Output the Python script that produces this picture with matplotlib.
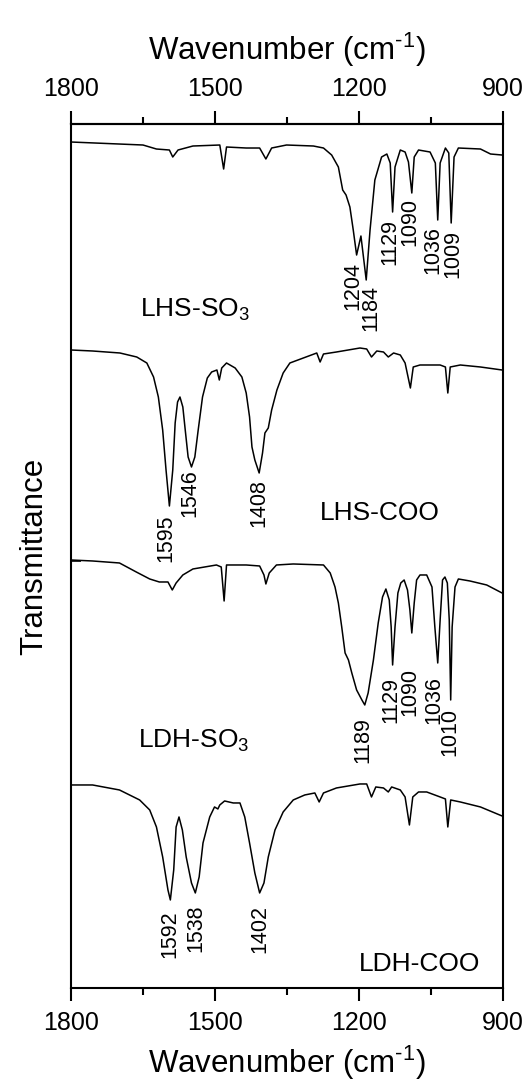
import numpy as np
import matplotlib
matplotlib.use("Agg")
import matplotlib.pyplot as plt

plt.rcParams['font.family'] = ['Liberation Sans', 'DejaVu Sans']
plt.rcParams['mathtext.fontset'] = 'custom'
plt.rcParams['mathtext.rm'] = 'Liberation Sans'
plt.rcParams['mathtext.it'] = 'Liberation Sans'

# espectros FTIR, transmitancia en unidades arbitrarias (desplazados)
wn_lhs_so3 = [1800, 1650, 1622, 1595, 1588, 1577, 1546, 1490, 1482, 1476, 1435, 1407, 1394,
              1382, 1351, 1295, 1274, 1257, 1243, 1234, 1227, 1219, 1212, 1205, 1196, 1185,
              1177, 1167, 1153, 1142, 1135, 1130, 1125, 1114, 1104, 1097, 1090, 1085, 1076,
              1052, 1041, 1036, 1031, 1020, 1013, 1008, 1002, 993, 947, 926, 902]
T_lhs_so3 = [846, 843, 839, 838, 831, 838, 842, 843, 819, 841, 840, 840, 829,
             840, 843, 842, 840, 833, 821, 798, 793, 781, 758, 733, 752, 708,
             758, 808, 831, 834, 825, 776, 821, 838, 836, 826, 795, 831, 838,
             836, 825, 768, 825, 840, 835, 765, 831, 840, 839, 834, 833]

wn_lhs_coo = [1800, 1755, 1698, 1663, 1642, 1628, 1618, 1609, 1602, 1595, 1588, 1583, 1578,
              1573, 1567, 1562, 1556, 1549, 1542, 1535, 1526, 1516, 1507, 1496, 1491, 1486,
              1476, 1458, 1444, 1435, 1428, 1423, 1417, 1408, 1401, 1396, 1389, 1382, 1371,
              1358, 1344, 1316, 1288, 1281, 1274, 1247, 1198, 1184, 1174, 1163, 1149, 1139,
              1128, 1114, 1104, 1093, 1087, 1073, 1031, 1020, 1015, 1010, 989, 947, 902]
T_lhs_coo = [638, 637, 635, 631, 625, 611, 591, 558, 518, 482, 518, 565, 586,
             591, 581, 558, 531, 521, 531, 558, 591, 610, 616, 618, 608, 620,
             625, 620, 611, 595, 571, 541, 528, 515, 535, 555, 560, 578, 598,
             615, 625, 630, 635, 626, 634, 636, 640, 639, 631, 637, 636, 631,
             635, 633, 625, 600, 621, 623, 623, 621, 595, 621, 623, 621, 618]

wn_ldh_so3 = [1800, 1755, 1699, 1664, 1636, 1616, 1598, 1589, 1581, 1567, 1546, 1497, 1487,
              1481, 1476, 1435, 1407, 1398, 1394, 1387, 1372, 1337, 1274, 1260, 1250, 1243,
              1236, 1229, 1222, 1215, 1205, 1194, 1188, 1181, 1170, 1160, 1151, 1144, 1137,
              1133, 1130, 1125, 1119, 1113, 1106, 1099, 1094, 1090, 1085, 1080, 1073, 1059,
              1048, 1042, 1036, 1031, 1026, 1021, 1016, 1012, 1009, 1006, 1000, 993, 969,
              934, 906, 902]
T_ldh_so3 = [428, 427, 425, 416, 409, 406, 406, 398, 405, 413, 419, 423, 421,
             387, 423, 423, 422, 413, 404, 415, 423, 424, 423, 415, 401, 385,
             361, 335, 328, 315, 298, 288, 283, 295, 328, 365, 391, 399, 388,
             361, 323, 361, 395, 405, 408, 398, 378, 355, 385, 408, 413, 413,
             401, 361, 325, 368, 408, 411, 405, 368, 288, 361, 401, 409, 407,
             403, 396, 395]

wn_ldh_coo = [1800, 1755, 1699, 1657, 1636, 1622, 1609, 1598, 1593, 1586, 1581, 1575, 1568,
              1560, 1549, 1541, 1533, 1525, 1511, 1501, 1494, 1490, 1480, 1462, 1448, 1438,
              1428, 1417, 1407, 1398, 1389, 1375, 1358, 1337, 1313, 1292, 1283, 1274, 1247,
              1198, 1184, 1174, 1165, 1149, 1139, 1132, 1114, 1104, 1095, 1088, 1076, 1059,
              1031, 1020, 1015, 1009, 989, 947, 902]
T_ldh_coo = [203, 203, 198, 188, 178, 161, 131, 98, 88, 118, 161, 171, 158,
             131, 105, 95, 111, 145, 171, 181, 179, 183, 187, 185, 185, 171,
             145, 115, 95, 105, 131, 158, 176, 188, 193, 195, 186, 195, 200,
             204, 204, 191, 201, 200, 196, 201, 198, 191, 163, 191, 196, 196,
             191, 189, 161, 188, 186, 181, 172]

spectra = [(wn_lhs_so3, T_lhs_so3), (wn_lhs_coo, T_lhs_coo),
           (wn_ldh_so3, T_ldh_so3), (wn_ldh_coo, T_ldh_coo)]

# etiquetas de picos: (texto, x, y)
picos = [("1204", 1213, 702), ("1184", 1175, 680), ("1129", 1135, 746),
         ("1090", 1094, 766), ("1036", 1046, 738), ("1009", 1004, 734),
         ("1595", 1602, 450), ("1546", 1552, 495), ("1408", 1409, 485),
         ("1189", 1191, 248), ("1129", 1133, 288), ("1090", 1094, 296),
         ("1036", 1044, 288), ("1010", 1010, 256),
         ("1592", 1594, 54), ("1538", 1539, 60), ("1402", 1406, 59)]

muestras = [("LHS-SO$_3$", 1656, 671), ("LHS-COO", 1281, 468),
            ("LDH-SO$_3$", 1660, 240), ("LDH-COO", 1200, 17)]

eje_x = "Wavenumber (cm$^{\u2010 1}$)"

fig = plt.figure(figsize=(5.27, 10.84), dpi=100)
ax = fig.add_axes([0.1347, 0.0886, 0.8198, 0.797])

for wn, T in spectra:
    ax.plot(wn, T, color="black", lw=1.1)

for txt, x, y in picos:
    ax.text(x, y, txt, rotation=90, ha="center", va="center", fontsize=15.5)

for txt, x, y in muestras:
    ax.text(x, y, txt, ha="left", va="baseline", fontsize=19)

ax.set_xlim(1800, 900)
ax.set_ylim(0, 864)
ax.set_xticks([1800, 1500, 1200, 900])
ax.set_xticks([1650, 1350, 1050], minor=True)
ax.set_yticks([427])
ax.set_yticklabels([])
ax.tick_params(axis="y", direction="in", length=7, width=1.2)
ax.tick_params(axis="x", which="major", direction="out", length=9.5, width=1.5,
               labelsize=18, pad=7)
ax.tick_params(axis="x", which="minor", direction="out", length=5, width=1.5)
for s in ax.spines.values():
    s.set_linewidth(1.5)

ax.set_xlabel(eje_x, fontsize=22.5, labelpad=6)
ax.set_ylabel("Transmittance", fontsize=22.5, labelpad=12)

sec = ax.secondary_xaxis("top")
sec.set_xticks([1800, 1500, 1200, 900])
sec.set_xticks([1650, 1350, 1050], minor=True)
sec.tick_params(axis="x", which="major", direction="out", length=9.5, width=1.5,
                labelsize=18, pad=7)
sec.tick_params(axis="x", which="minor", direction="out", length=5, width=1.5)
sec.spines["top"].set_linewidth(1.5)
sec.set_xlabel(eje_x, fontsize=22.5, labelpad=12)

fig.savefig("out.png", dpi=100)
